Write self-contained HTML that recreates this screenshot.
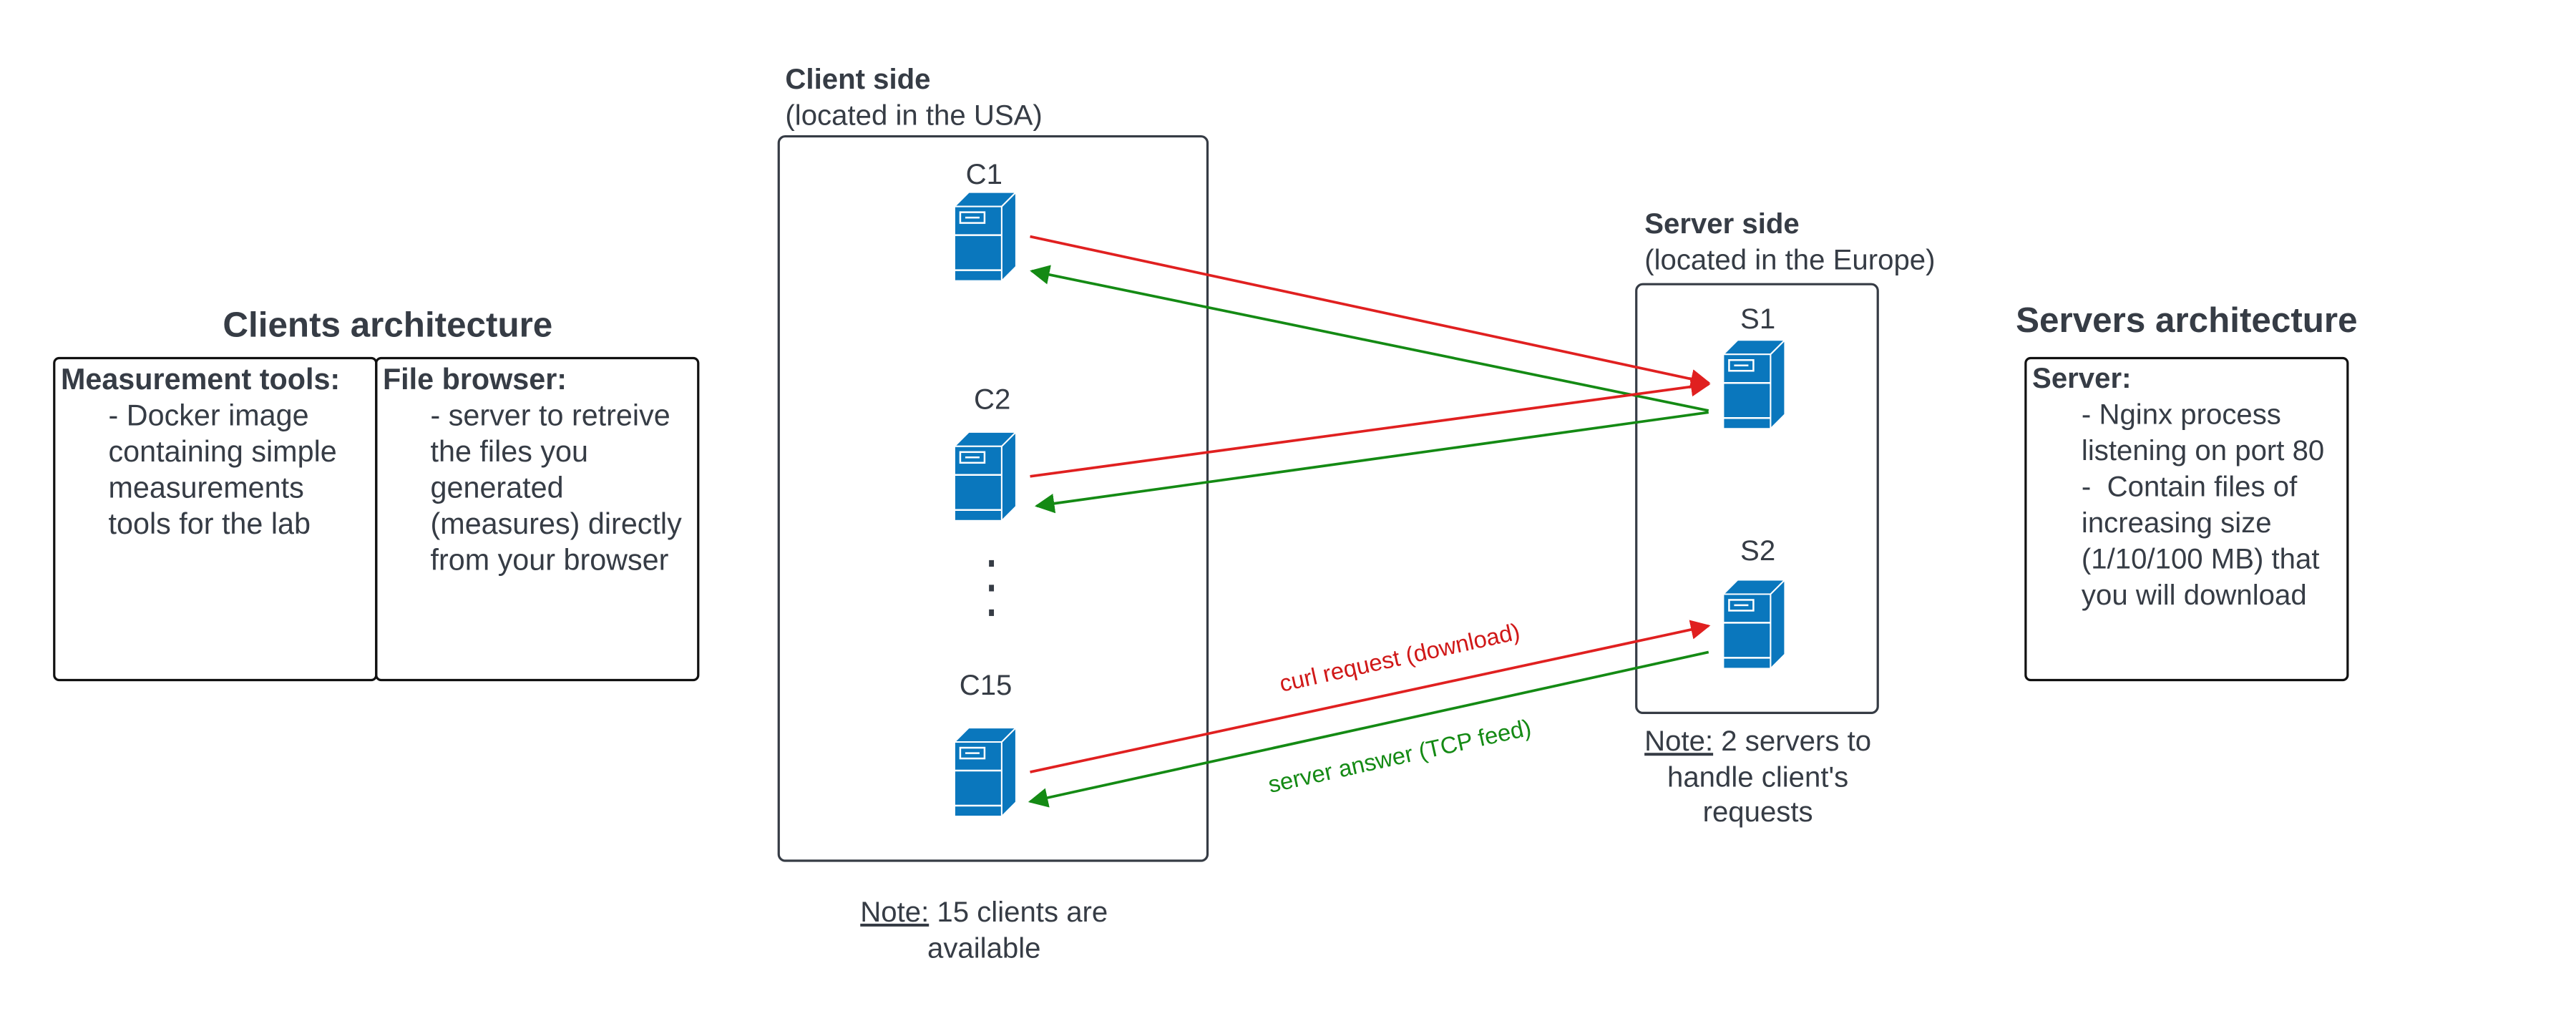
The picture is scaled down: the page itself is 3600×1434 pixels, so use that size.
<!DOCTYPE html>
<html><head><meta charset="utf-8"><style>
html,body{margin:0;padding:0;background:#fff;}
svg{display:block;}
text{font-family:"Liberation Sans",sans-serif;fill:#363c45;}
.b{font-weight:bold;}
</style></head><body>
<svg width="3600" height="1434" viewBox="0 0 1568 624.6" preserveAspectRatio="none" xmlns="http://www.w3.org/2000/svg">
<defs>
<g id="srv" transform="scale(0.4355)">
  <polygon points="0,20 20,0 86,0 66,20" fill="#0a77bd" stroke="#fff" stroke-width="2"/>
  <rect x="0" y="20" width="66" height="104" fill="#0a77bd" stroke="#fff" stroke-width="2"/>
  <polygon points="66,20 86,0 86,104 66,124" fill="#0a77bd" stroke="#fff" stroke-width="2"/>
  <line x1="0" y1="60" x2="66" y2="60" stroke="#fff" stroke-width="2.5"/>
  <line x1="0" y1="109" x2="66" y2="109" stroke="#fff" stroke-width="2.5"/>
  <rect x="8" y="28" width="34" height="15" fill="none" stroke="#fff" stroke-width="2.5"/>
  <line x1="15" y1="35.5" x2="35" y2="35.5" stroke="#fff" stroke-width="2.5"/>
</g>
<marker id="ar" viewBox="0 0 10 10" refX="9" refY="5" markerWidth="12" markerHeight="12" markerUnits="userSpaceOnUse" orient="auto"><path d="M0,0 L10,5 L0,10 z" fill="#e02020"/></marker>
<marker id="ag" viewBox="0 0 10 10" refX="9" refY="5" markerWidth="12" markerHeight="12" markerUnits="userSpaceOnUse" orient="auto"><path d="M0,0 L10,5 L0,10 z" fill="#148a14"/></marker>
</defs>

<!-- Clients architecture -->
<text x="236" y="205" font-size="21.5" class="b" text-anchor="middle">Clients architecture</text>
<rect x="33" y="218" width="196" height="196" rx="3" fill="none" stroke="#111" stroke-width="1.4"/>
<rect x="229" y="218" width="196" height="196" rx="3" fill="none" stroke="#111" stroke-width="1.4"/>
<g font-size="18">
<text x="37" y="237" class="b">Measurement tools:</text>
<text x="66" y="259">- Docker image</text>
<text x="66" y="281">containing simple</text>
<text x="66" y="303">measurements</text>
<text x="66" y="325">tools for the lab</text>
<text x="233" y="237" class="b">File browser:</text>
<text x="262" y="259">- server to retreive</text>
<text x="262" y="281">the files you</text>
<text x="262" y="303">generated</text>
<text x="262" y="325">(measures) directly</text>
<text x="262" y="347">from your browser</text>
</g>

<!-- Client side -->
<text x="478" y="54" font-size="17.5" class="b">Client side</text>
<text x="478" y="76" font-size="17.5">(located in the USA)</text>
<rect x="474" y="83" width="261" height="441" rx="4" fill="none" stroke="#363c45" stroke-width="1.4"/>
<g font-size="17.5" text-anchor="middle">
<text x="599" y="112">C1</text>
<text x="604" y="249">C2</text>
<text x="600" y="423">C15</text>
</g>
<use href="#srv" x="581" y="117"/>
<use href="#srv" x="581" y="263"/>
<use href="#srv" x="581" y="443"/>
<rect x="602" y="341" width="3" height="4" fill="#363c45"/>
<rect x="602" y="356" width="3" height="4" fill="#363c45"/>
<rect x="602" y="371" width="3" height="4" fill="#363c45"/>
<text x="599" y="561" font-size="17.5" text-anchor="middle"><tspan text-decoration="underline">Note:</tspan> 15 clients are</text>
<text x="599" y="583" font-size="17.5" text-anchor="middle">available</text>

<!-- Server side -->
<text x="1001" y="142" font-size="17.5" class="b">Server side</text>
<text x="1001" y="164" font-size="17.5">(located in the Europe)</text>
<rect x="996" y="173" width="147" height="261" rx="4" fill="none" stroke="#363c45" stroke-width="1.4"/>
<g font-size="17.5" text-anchor="middle">
<text x="1070" y="200">S1</text>
<text x="1070" y="341">S2</text>
</g>
<use href="#srv" x="1049" y="207"/>
<use href="#srv" x="1049" y="353"/>
<text x="1070" y="457" font-size="17.5" text-anchor="middle"><tspan text-decoration="underline">Note:</tspan> 2 servers to</text>
<text x="1070" y="479" font-size="17.5" text-anchor="middle">handle client's</text>
<text x="1070" y="500" font-size="17.5" text-anchor="middle">requests</text>

<!-- Arrows -->
<g stroke-width="1.6" fill="none">
<line x1="627" y1="144" x2="1040" y2="233" stroke="#e02020" marker-end="url(#ar)"/>
<line x1="1040" y1="250" x2="628" y2="165" stroke="#148a14" marker-end="url(#ag)"/>
<line x1="627" y1="290" x2="1040" y2="234" stroke="#e02020" marker-end="url(#ar)"/>
<line x1="1040" y1="251" x2="631" y2="308" stroke="#148a14" marker-end="url(#ag)"/>
<line x1="627" y1="470" x2="1040" y2="381" stroke="#e02020" marker-end="url(#ar)"/>
<line x1="1040" y1="397" x2="627" y2="488" stroke="#148a14" marker-end="url(#ag)"/>
</g>
<text x="853" y="405" font-size="14.3" text-anchor="middle" transform="rotate(-12.5 853 405)" style="fill:#d01818">curl request (download)</text>
<text x="853" y="465" font-size="14.3" text-anchor="middle" transform="rotate(-12.5 853 465)" style="fill:#148a14">server answer (TCP feed)</text>

<!-- Servers architecture -->
<text x="1331" y="202" font-size="21.5" class="b" text-anchor="middle">Servers architecture</text>
<rect x="1233" y="218" width="196" height="196" rx="3" fill="none" stroke="#111" stroke-width="1.4"/>
<g font-size="17.5">
<text x="1237" y="236" class="b">Server:</text>
<text x="1267" y="258">- Nginx process</text>
<text x="1267" y="280">listening on port 80</text>
<text x="1267" y="302" xml:space="preserve">-  Contain files of</text>
<text x="1267" y="324">increasing size</text>
<text x="1267" y="346">(1/10/100 MB) that</text>
<text x="1267" y="368">you will download</text>
</g>
</svg>
</body></html>
